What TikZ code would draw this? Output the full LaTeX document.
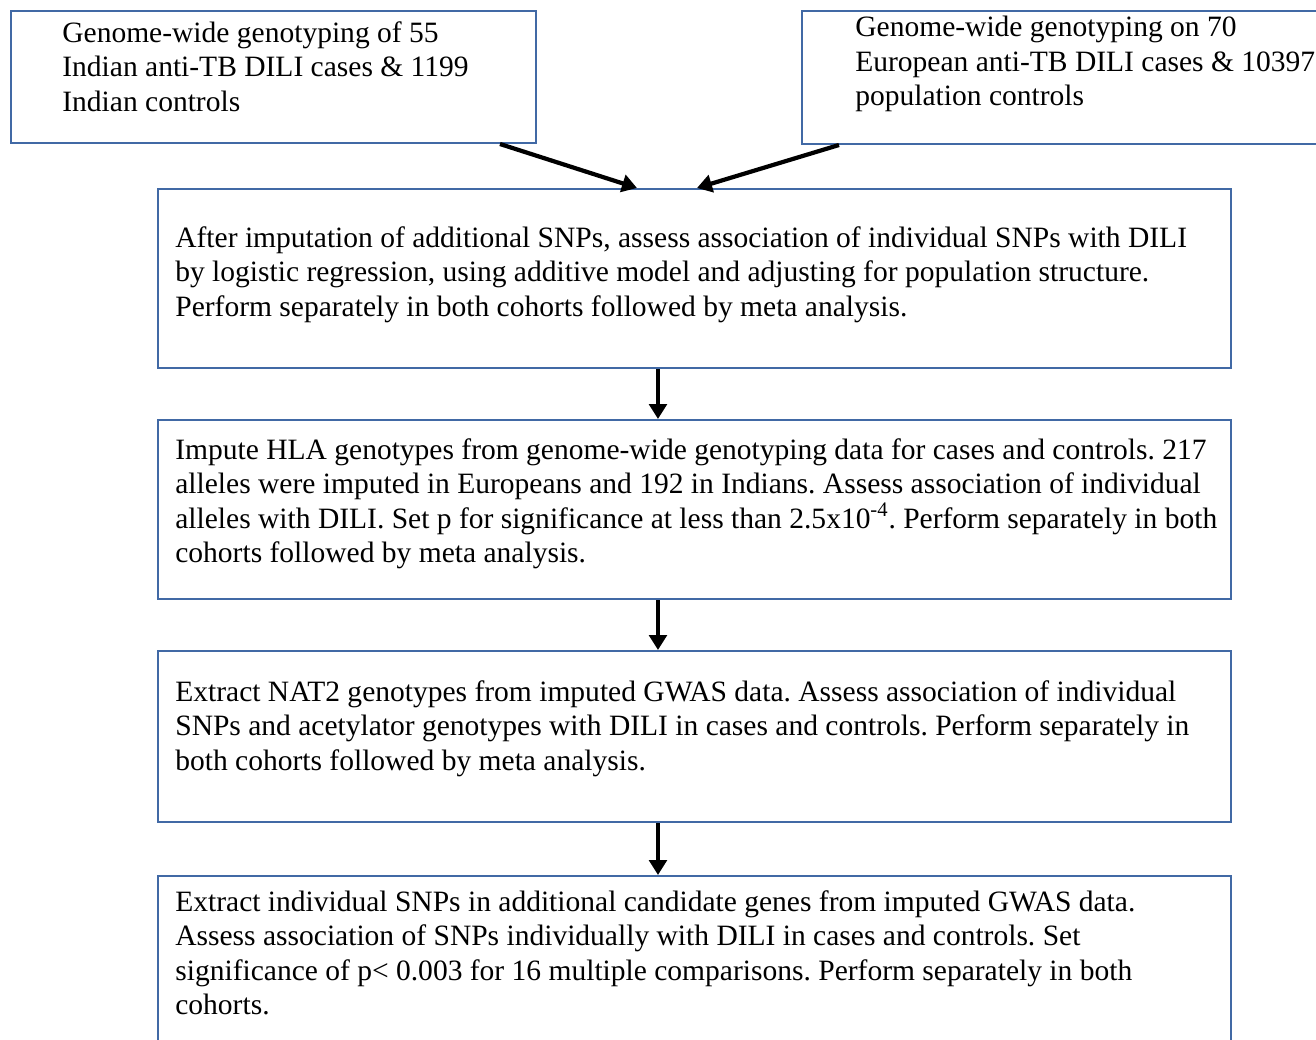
\documentclass[tikz,border=0pt]{standalone}
\usepackage{fontspec}
\setmainfont{Liberation Serif}
\usetikzlibrary{calc, fit, arrows.meta}
\definecolor{boxblue}{RGB}{65,105,165}
\frenchspacing

\begin{document}
\begin{tikzpicture}[
    x=0.02cm, y=-0.02cm,
    box/.style={draw=boxblue, line width=1.15pt, rectangle, inner sep=0pt},
    txt/.style={anchor=north west, inner sep=0pt, align=left,
                font=\fontsize{16.8pt}{19.6pt}\selectfont},
    arrow/.style={draw, line width=2.4pt, -{Triangle[length=8.5pt, width=10pt]}}
]

% ============================================================
% PAGE (1316 x 1040 px, 1 px = 0.02 cm, y down)
% ============================================================
\useasboundingbox (0,0) rectangle (1316,1040);

% ============================================================
% COHORTS (top row)
% ============================================================
\node[box, fit={(11,11) (536,143)}] (indian) {};
\node[txt] (indiantxt) at (62,21)
  {Genome-wide genotyping of 55\\
   Indian anti-TB DILI cases \& 1199\\
   Indian controls};

\node[box, fit={(802,11) (1340,144)}] (european) {};
\node[txt] (europeantxt) at (855,16)
  {Genome-wide genotyping on 70\\
   European anti-TB DILI cases \& 10397\\
   population controls};

% ============================================================
% STEP 1: SNP association
% ============================================================
\node[box, fit={(158,189) (1231,368)}] (assoc) {};
\node[txt] (assoctxt) at (175,226)
  {After imputation of additional SNPs, assess association of individual SNPs with DILI\\
   by logistic regression, using additive model and adjusting for population structure.\\
   Perform separately in both cohorts followed by meta analysis.};

% ============================================================
% STEP 2: HLA alleles
% ============================================================
\node[box, fit={(158,420) (1231,599)}] (hla) {};
\node[txt] (hlatxt) at (175,438)
  {Impute HLA genotypes from genome-wide genotyping data for cases and controls. 217\\
   alleles were imputed in Europeans and 192 in Indians. Assess association of individual\\
   alleles with DILI. Set p for significance at less than 2.5x10\textsuperscript{-4}. Perform separately in both\\
   cohorts followed by meta analysis.};

% ============================================================
% STEP 3: NAT2
% ============================================================
\node[box, fit={(158,651) (1231,822)}] (nat) {};
\node[txt] (nattxt) at (175,680)
  {Extract NAT2 genotypes from imputed GWAS data. Assess association of individual\\
   SNPs and acetylator genotypes with DILI in cases and controls. Perform separately in\\
   both cohorts followed by meta analysis.};

% ============================================================
% STEP 4: candidate genes
% ============================================================
\node[box, fit={(158,876) (1231,1060)}] (cand) {};
\node[txt] (candtxt) at (175,890)
  {Extract individual SNPs in additional candidate genes from imputed GWAS data.\\
   Assess association of SNPs individually with DILI in cases and controls. Set\\
   significance of p< 0.003 for 16 multiple comparisons. Perform separately in both\\
   cohorts.};

% ============================================================
% CONNECTIONS
% ============================================================
\draw[arrow] ($(indian.south west)+(490,0)$) -- ($(assoc.north west)+(480,0)$);
\draw[arrow] ($(european.south west)+(38,0)$) -- ($(assoc.north west)+(540,0)$);

\draw[arrow] ($(assoc.south west)+(501,0)$) -- ($(hla.north west)+(501,0)$);
\draw[arrow] ($(hla.south west)+(501,0)$) -- ($(nat.north west)+(501,0)$);
\draw[arrow] ($(nat.south west)+(501,0)$) -- ($(cand.north west)+(501,0)$);

\end{tikzpicture}
\end{document}
